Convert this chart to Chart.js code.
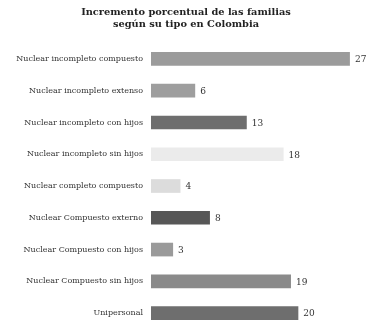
<!DOCTYPE html>
<html><head><meta charset="utf-8">
<script src="https://cdn.jsdelivr.net/npm/chart.js@4/dist/chart.umd.min.js"></script>
<style>html,body{margin:0;padding:0;background:#fff;overflow:hidden}</style>
</head><body><canvas id="c" width="386" height="334" style="display:block"></canvas>
<script>
const categories = ["Nuclear incompleto compuesto","Nuclear incompleto extenso","Nuclear incompleto con hijos","Nuclear incompleto sin hijos","Nuclear completo compuesto","Nuclear Compuesto externo","Nuclear Compuesto con hijos","Nuclear Compuesto sin hijos","Unipersonal"];
const values = [27,6,13,18,4,8,3,19,20];
const barColors = ["#9b9b9b","#9e9e9e","#6e6e6e","#ebebeb","#dcdcdc","#575757","#9a9a9a","#8a8a8a","#6e6e6e"];
const titleLines = ["Incremento porcentual de las familias","según su tipo en Colombia"];

const valueLabels = {
  id:'valueLabels',
  afterDatasetsDraw(chart){
    const ctx = chart.ctx;
    const meta = chart.getDatasetMeta(0);
    ctx.save();
    ctx.font = '9px "DejaVu Serif", serif';
    ctx.fillStyle = '#333';
    ctx.textBaseline = 'middle';
    ctx.textAlign = 'left';
    meta.data.forEach((bar,i)=>{
      ctx.fillText(String(values[i]), bar.x + 5, bar.y + 1);
    });
    ctx.restore();
  }
};

new Chart(document.getElementById('c'), {
  type:'bar',
  data:{labels:categories, datasets:[{data:values, backgroundColor:barColors, barPercentage:0.43, categoryPercentage:1.0}]},
  options:{
    indexAxis:'y', responsive:false, maintainAspectRatio:false, animation:false, devicePixelRatio:1,
    layout:{padding:{left:0,right:14,top:6.5,bottom:5}},
    plugins:{
      legend:{display:false}, tooltip:{enabled:false},
      title:{display:true, text:titleLines, color:'#222', font:{family:'"DejaVu Serif", serif', size:9.8, weight:'bold'}, padding:{top:0,bottom:13}, lineHeight:1.4}
    },
    scales:{
      x:{display:false, min:0, max:30},
      y:{grid:{display:false, drawTicks:false}, border:{display:false},
         ticks:{color:'#333', padding:8, font:{family:'"DejaVu Serif", serif', size:8}},
         afterFit(s){ s.width = 151; s.paddingTop = 0; s.paddingBottom = 0; }}
    }
  },
  plugins:[valueLabels]
});
</script></body></html>
